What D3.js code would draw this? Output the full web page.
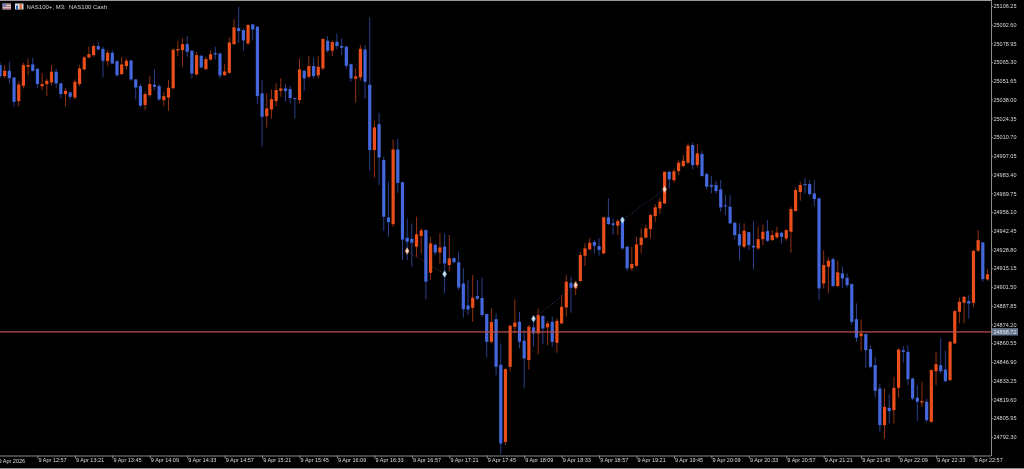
<!DOCTYPE html>
<html><head><meta charset="utf-8">
<script src="https://cdn.jsdelivr.net/npm/d3@7/dist/d3.min.js"></script>
<style>html,body{margin:0;padding:0;background:#000;overflow:hidden}svg{display:block;filter:blur(.5px)}</style>
</head><body>
<script>
const highs=[25065.5,25063.1,25065.5,25054.1,25051.5,25064.8,25068.0,25068.5,25060.7,25057.5,25053.4,25063.1,25060.7,25050.2,25046.1,25043.7,25052.7,25063.1,25069.7,25076.5,25078.2,25080.1,25076.5,25074.0,25074.0,25066.8,25069.2,25068.0,25066.8,25052.7,25049.3,25043.7,25055.1,25060.2,25049.3,25043.7,25052.2,25075.3,25080.8,25082.6,25084.3,25074.0,25072.8,25070.4,25069.2,25074.0,25076.5,25072.1,25063.8,25083.3,25096.4,25105.6,25089.8,25093.0,25093.0,25091.5,
25052.2,25042.5,25045.4,25049.8,25053.4,25049.3,25047.8,25039.3,25068.0,25059.5,25069.7,25068.7,25069.7,25082.6,25084.3,25080.9,25086.2,25082.6,25077.2,25064.3,25060.7,25077.7,25077.7,25097.9,25022.5,25028.4,24996.3,24978.1,25008.9,25009.4,24978.1,24951.3,24947.7,24952.7,24944.1,24943.4,24938.1,24933.2,24940.5,24940.5,24939.3,24923.0,24927.1,24915.0,24906.5,24910.1,24906.5,24908.4,24882.2,24885.8,24882.2,24860.3,24842.1,24873.7,24892.4,24883.4,
24870.0,24873.7,24880.2,24885.8,24881.0,24876.8,24879.8,24878.5,24895.6,24910.1,24908.9,24906.0,24927.1,24933.2,24936.9,24935.6,24936.9,24952.7,24966.0,24951.5,24950.7,24951.5,24931.3,24930.8,24938.1,24944.2,24946.6,24954.6,24961.9,24966.0,24985.4,24986.2,24987.8,24994.0,24997.6,25006.1,25006.6,25005.6,25000.7,24984.7,24982.3,24978.9,24979.3,24968.4,24968.4,24949.0,24947.8,24947.8,24941.7,24949.0,24945.3,24947.0,24950.2,24942.9,24945.3,24941.7,24943.4,24959.9,24974.0,24978.1,24980.6,24979.3,24979.3,24966.7,
24928.3,24923.0,24923.0,24920.6,24916.2,24911.3,24904.0,24889.5,24877.8,24867.6,24859.1,24850.6,24830.7,24827.5,24823.4,24836.0,24856.7,24858.4,24859.1,24835.3,24829.9,24832.4,24820.2,24841.3,24854.2,24864.0,24855.0,24862.2,24884.6,24893.8,24894.8,24895.5,24928.3,24942.9,24934.4,24914.2];
const lows=[25053.4,25053.4,25049.8,25032.7,25033.2,25046.1,25055.8,25058.3,25046.1,25044.9,25040.5,25048.5,25046.8,25038.8,25033.2,25038.1,25038.1,25047.8,25059.0,25068.0,25069.2,25074.0,25054.1,25062.4,25063.8,25054.6,25055.8,25060.0,25051.7,25038.1,25032.7,25030.3,25040.0,25044.9,25037.1,25033.2,25029.8,25045.4,25069.7,25061.9,25069.2,25053.4,25055.8,25060.7,25059.5,25066.3,25067.2,25053.4,25055.1,25057.0,25077.7,25079.4,25073.6,25077.7,25081.3,25034.7,
25003.6,25017.7,25024.2,25033.2,25040.0,25036.4,25035.2,25024.2,25035.2,25044.4,25053.4,25053.4,25053.4,25059.5,25072.1,25069.7,25074.5,25070.4,25060.7,25051.0,25035.9,25051.7,25038.8,24986.1,24981.2,24975.6,24942.3,24938.0,24945.3,24970.0,24921.0,24921.1,24916.2,24923.5,24925.9,24892.4,24906.5,24924.7,24918.6,24896.8,24912.6,24918.6,24899.2,24879.3,24881.0,24876.1,24891.9,24879.8,24850.1,24860.3,24837.2,24780.1,24786.2,24839.7,24867.6,24856.7,
24827.5,24841.4,24857.9,24852.5,24859.8,24859.1,24857.9,24853.5,24874.4,24879.8,24882.7,24895.6,24905.3,24916.7,24928.4,24925.9,24924.2,24925.4,24946.6,24939.3,24939.3,24928.4,24913.1,24913.1,24916.2,24925.9,24936.9,24936.9,24949.0,24954.6,24961.9,24973.3,24977.4,24983.0,24988.6,24991.0,24987.1,24988.6,24981.8,24972.5,24969.6,24969.6,24956.3,24953.8,24947.3,24936.1,24920.5,24929.5,24928.3,24914.2,24928.8,24932.0,24934.4,24935.1,24936.8,24933.2,24935.1,24926.4,24956.3,24964.3,24969.6,24968.4,24960.4,24891.9,
24900.4,24896.8,24901.6,24901.6,24900.4,24901.1,24873.7,24861.5,24855.0,24842.8,24842.1,24821.4,24795.9,24791.0,24802.0,24802.0,24820.7,24846.2,24829.9,24819.0,24803.9,24814.1,24803.2,24802.7,24829.9,24838.4,24832.4,24833.1,24859.8,24874.9,24874.9,24878.5,24887.0,24927.1,24905.3,24906.0];
const opens=[25063.1,25055.1,25059.0,25054.1,25036.9,25048.0,25061.9,25063.6,25060.4,25047.8,25049.3,25050.5,25058.3,25049.8,25042.0,25043.2,25039.5,25049.3,25060.0,25068.7,25070.4,25077.0,25075.0,25066.0,25072.1,25066.0,25056.6,25062.4,25066.5,25052.7,25047.8,25034.0,25041.2,25048.8,25047.8,25037.6,25039.5,25046.3,25073.8,25074.0,25078.4,25073.6,25056.3,25069.9,25060.2,25067.2,25071.9,25071.6,25055.8,25057.5,25078.4,25090.1,25088.6,25078.9,25092.8,25091.1,
25042.5,25025.9,25030.8,25036.9,25044.4,25046.1,25045.6,25039.1,25037.6,25059.0,25054.6,25062.4,25055.6,25060.7,25080.9,25073.6,25080.1,25077.0,25076.5,25063.8,25053.2,25054.1,25074.5,25048.8,25001.2,25020.1,24993.9,24952.1,24947.2,25001.6,24977.8,24937.3,24936.6,24930.8,24938.6,24942.9,24911.8,24932.2,24926.6,24930.8,24917.4,24922.5,24919.4,24904.0,24888.0,24886.3,24894.8,24893.4,24881.7,24861.5,24878.0,24844.8,24788.6,24843.3,24872.4,24876.1,
24862.3,24848.2,24872.0,24867.6,24880.2,24872.0,24876.1,24860.8,24874.9,24886.6,24904.5,24900.4,24905.8,24924.2,24928.8,24934.2,24931.3,24925.9,24952.2,24947.8,24946.1,24950.2,24930.8,24915.0,24916.9,24932.0,24937.4,24943.7,24953.1,24958.7,24962.3,24985.4,24979.3,24985.9,24989.6,24992.0,25004.9,24990.3,24998.3,24983.7,24975.7,24975.7,24972.5,24960.9,24959.9,24948.2,24940.0,24930.8,24941.4,24931.5,24929.5,24936.3,24942.2,24935.6,24937.6,24941.0,24936.8,24941.7,24956.8,24970.6,24976.4,24976.4,24969.6,24966.0,
24904.0,24916.2,24921.8,24902.1,24911.3,24908.2,24903.6,24878.0,24865.6,24867.1,24856.2,24844.5,24827.5,24800.8,24813.4,24811.7,24828.0,24855.4,24854.2,24834.8,24820.7,24817.3,24817.8,24803.2,24840.1,24844.5,24841.3,24833.6,24860.3,24883.4,24890.0,24891.2,24890.0,24927.9,24933.9,24907.0];
const closes=[25055.1,25059.0,25053.6,25036.4,25049.0,25063.1,25063.1,25059.0,25049.3,25049.3,25051.7,25058.3,25049.8,25042.0,25044.4,25040.0,25051.0,25060.7,25068.7,25071.1,25077.0,25074.5,25066.3,25072.1,25064.3,25055.8,25063.6,25066.3,25052.7,25046.8,25033.5,25042.0,25049.3,25047.3,25038.1,25040.5,25046.6,25074.3,25074.8,25078.4,25072.8,25057.0,25070.4,25061.4,25067.5,25071.1,25070.9,25055.6,25058.5,25079.6,25090.6,25087.9,25081.1,25092.3,25089.1,25040.5,
25025.5,25031.5,25038.3,25044.9,25046.1,25044.2,25039.1,25038.3,25060.0,25053.4,25062.4,25055.1,25061.9,25082.1,25073.6,25079.9,25077.0,25075.8,25062.6,25053.4,25054.9,25075.0,25051.0,25001.2,25017.7,24995.8,24952.6,24948.7,25001.7,24977.3,24936.0,24934.4,24933.7,24939.8,24942.7,24905.3,24933.2,24926.6,24930.3,24918.6,24922.3,24919.6,24901.1,24885.3,24885.1,24893.6,24892.9,24881.0,24861.5,24875.9,24843.3,24787.4,24841.6,24873.2,24875.6,24861.5,
24849.4,24872.5,24867.6,24881.0,24871.2,24874.9,24861.5,24876.8,24887.0,24905.3,24900.9,24904.1,24924.7,24929.6,24933.7,24931.5,24928.4,24952.2,24947.3,24946.6,24949.5,24929.6,24915.0,24918.2,24932.5,24937.4,24944.2,24953.9,24959.5,24963.6,24985.4,24979.8,24985.7,24992.0,24993.4,25004.4,24990.3,24998.8,24982.3,24974.5,24974.5,24971.3,24959.4,24960.2,24947.8,24939.3,24931.7,24942.4,24932.0,24930.3,24936.3,24941.7,24935.1,24939.3,24941.0,24938.0,24942.9,24958.2,24972.1,24975.7,24975.7,24969.1,24965.5,24900.4,
24917.4,24920.6,24902.1,24912.1,24907.7,24902.8,24876.1,24864.4,24867.6,24855.4,24843.3,24825.8,24800.8,24814.1,24811.0,24828.0,24855.9,24854.2,24834.3,24820.2,24817.8,24818.3,24804.4,24840.9,24845.2,24840.1,24832.8,24861.5,24883.9,24890.7,24894.3,24889.5,24927.9,24935.6,24907.2,24910.8];

const priceTicks=[25106.25,25092.60,25078.95,25065.30,25051.65,25038.00,25024.35,25010.70,24997.05,24983.40,24969.75,24956.10,24942.45,24928.80,24915.15,24901.50,24887.85,24874.20,24860.55,24846.90,24833.25,24819.60,24805.95,24792.30];
const timeTicks=["9 Apr 12:57","9 Apr 13:21","9 Apr 13:45","9 Apr 14:09","9 Apr 14:33","9 Apr 14:57","9 Apr 15:21","9 Apr 15:45","9 Apr 16:09","9 Apr 16:33","9 Apr 16:57","9 Apr 17:21","9 Apr 17:45","9 Apr 18:09","9 Apr 18:33","9 Apr 18:57","9 Apr 19:21","9 Apr 19:45","9 Apr 20:09","9 Apr 20:33","9 Apr 20:57","9 Apr 21:21","9 Apr 21:45","9 Apr 22:09","9 Apr 22:33","9 Apr 22:57"];
const firstLabel="9 Apr 2026";
const titleText="NAS100+, M3:  NAS100 Cash";
const currentPrice=24868.72;
const trades=[{i0:87,p0:24927.7,i1:95,p1:24910.9,c0:"#e89878",c1:"#88c8f0",line:"#a06050"},
              {i0:114,p0:24878.3,i1:123,p1:24902.9,c0:"#78c0f0",c1:"#f09868",line:"#4060a0"},
              {i0:133,p0:24950.2,i1:142,p1:24972.6,c0:"#78c0f0",c1:"#f0a080",line:"#4060a0"}];

const W=1024,H=469,plotR=991,plotB=455.5;
const FONT='"Liberation Sans",Arial,sans-serif';
const BLUE="#4468DC",ORANGE="#EA4E1A";
const x=d3.scaleLinear().domain([0,211]).range([0,987.5]);
const y=d3.scaleLinear().domain([25106.25,24792.30]).range([5.9,436.8]);

const svg=d3.select("body").append("svg").attr("width",W).attr("height",H).style("background","#000");
svg.append("rect").attr("x",0).attr("y",0).attr("width",plotR).attr("height",1).attr("fill","#9a9a9a");
svg.append("rect").attr("x",0).attr("y",468).attr("width",W).attr("height",1).attr("fill","#8a8a8a");

const g=svg.append("g");
const data=opens.map((o,i)=>({i,o,c:closes[i],h:highs[i],l:lows[i]}));
const col=d=>d.c>=d.o?ORANGE:BLUE;
g.selectAll("line.w").data(data).join("line").attr("class","w")
 .attr("x1",d=>x(d.i)).attr("x2",d=>x(d.i)).attr("y1",d=>y(d.h)).attr("y2",d=>y(d.l))
 .attr("stroke",col).attr("stroke-opacity",.7).attr("stroke-width",.9);
g.selectAll("rect.b").data(data).join("rect").attr("class","b")
 .attr("x",d=>x(d.i)-1.6).attr("width",3.2)
 .attr("y",d=>y(Math.max(d.o,d.c))).attr("height",d=>Math.max(1,y(Math.min(d.o,d.c))-y(Math.max(d.o,d.c))))
 .attr("fill",col);

// price line
svg.append("line").attr("x1",0).attr("x2",plotR).attr("y1",y(currentPrice)).attr("y2",y(currentPrice))
 .attr("stroke","#b84e4c").attr("stroke-width",1.3);

// trades
const tg=svg.append("g");
tg.selectAll("line").data(trades).join("line")
 .attr("x1",d=>x(d.i0)).attr("y1",d=>y(d.p0)).attr("x2",d=>x(d.i1)).attr("y2",d=>y(d.p1))
 .attr("stroke",d=>d.line).attr("stroke-width",.7).attr("stroke-dasharray","1 2");
const marks=trades.flatMap(t=>[{i:t.i0,p:t.p0,c:t.c0},{i:t.i1,p:t.p1,c:t.c1}]);
tg.selectAll("path").data(marks).join("path")
 .attr("d",d3.symbol(d3.symbolDiamond,11))
 .attr("transform",d=>`translate(${x(d.i)},${y(d.p)})`)
 .attr("fill","#e8e4e0").attr("stroke",d=>d.c).attr("stroke-width",.9);

// axes
const xTickIdx=timeTicks.map((_,k)=>8*(k+1));
const ax=d3.axisBottom(x).tickValues(xTickIdx).tickFormat((d,k)=>timeTicks[k]).tickSize(3).tickPadding(0);
const xg=svg.append("g").attr("transform",`translate(0,${plotB})`).call(ax);
xg.select(".domain").attr("stroke","#8c8c8c").attr("d",`M0,0.5H${plotR}`);
xg.selectAll(".tick line").attr("stroke","#8c8c8c");
xg.selectAll("text").attr("fill","#dcdcdc").attr("font-family",FONT).attr("font-size",5.5)
  .attr("text-anchor","start").attr("x",.6).attr("y",3).attr("dy",".68em");
svg.append("text").text(firstLabel).attr("x",-1.5).attr("y",463).attr("fill","#dcdcdc").attr("font-family",FONT).attr("font-size",5.5);

const ay=d3.axisRight(y).tickValues(priceTicks).tickFormat(d3.format(".2f")).tickSize(2).tickPadding(.5);
const yg=svg.append("g").attr("transform",`translate(${plotR},0)`).call(ay);
yg.select(".domain").attr("stroke","#8c8c8c").attr("d",`M0.5,0V${plotB+.5}`);
yg.selectAll(".tick line").attr("stroke","#8c8c8c");
yg.selectAll("text").attr("fill","#dcdcdc").attr("font-family",FONT).attr("font-size",5.5);

// current price tag
svg.append("rect").attr("x",plotR+1).attr("y",y(currentPrice)-3.8).attr("width",26).attr("height",7.4).attr("fill","#66768c");
svg.append("text").text(d3.format(".2f")(currentPrice)).attr("x",plotR+2.5).attr("y",y(currentPrice)).attr("dy",".35em")
 .attr("fill","#e0e4ea").attr("font-family",FONT).attr("font-size",5.5);

// header
const hg=svg.append("g");
hg.append("rect").attr("x",2.5).attr("y",3.5).attr("width",8.5).attr("height",6).attr("fill","#d8d0cc");
[4.3,6.1,7.9].forEach(v=>hg.append("rect").attr("x",2.5).attr("y",v).attr("width",8.5).attr("height",.8).attr("fill","#b06070"));
hg.append("rect").attr("x",2.5).attr("y",3.5).attr("width",3.5).attr("height",3).attr("fill","#6878b0");
hg.append("rect").attr("x",15).attr("y",3.5).attr("width",8.5).attr("height",6).attr("fill","#d8dce4");
hg.append("rect").attr("x",16).attr("y",5.5).attr("width",2).attr("height",4).attr("fill","#3060a8");
hg.append("rect").attr("x",19.5).attr("y",4).attr("width",2.5).attr("height",5).attr("fill","#e07040");
hg.append("text").text(titleText).attr("x",26.5).attr("y",6.8).attr("dy",".35em").attr("fill","#d4d4d4").attr("font-family",FONT).attr("font-size",6).style("white-space","pre");
</script>
</body></html>
